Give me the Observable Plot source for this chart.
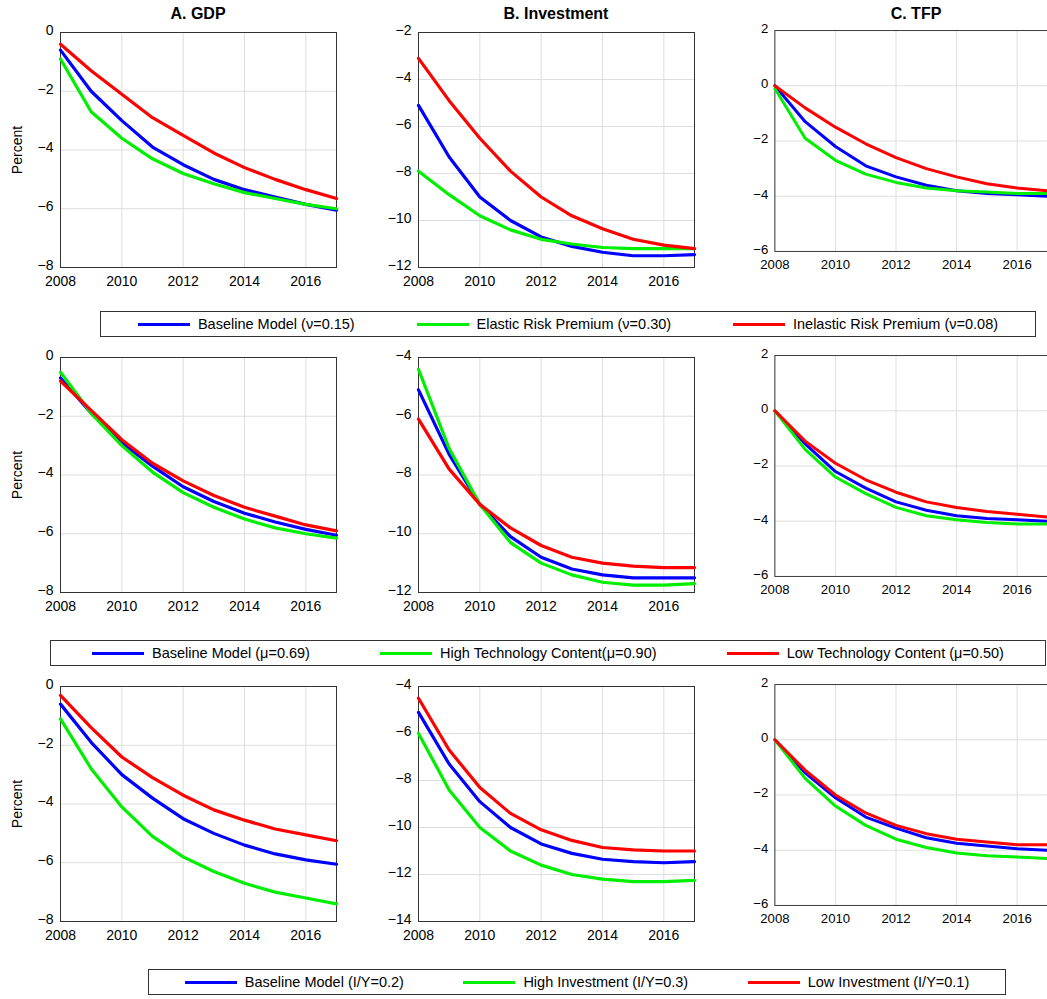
<!DOCTYPE html>
<html><head><meta charset="utf-8">
<script src="https://cdn.jsdelivr.net/npm/d3@7"></script>
<script src="https://cdn.jsdelivr.net/npm/@observablehq/plot@0.6"></script>
<style>
body{margin:0;background:#fff;font-family:"Liberation Sans",Arial,sans-serif;overflow:hidden}
#wrap{position:relative;width:1047px;height:999px;overflow:hidden}
.cell{position:absolute}
.ttl{position:absolute;font-weight:bold;font-size:16px;text-align:center}
.leg{position:absolute;border:1px solid #333;height:26px;display:flex;align-items:center;justify-content:space-around;font-size:14.5px;box-sizing:border-box;padding:0 6px}
.leg span{display:flex;align-items:center;white-space:nowrap}
.leg i{display:inline-block;width:52px;height:3px;margin-right:8px}
</style></head><body>
<div id="wrap"></div>
<script>
const years = [2008,2009,2010,2011,2012,2013,2014,2015,2016,2017];
const colors = ["#0000ff","#00ee00","#ff0000"];

// row 1: risk premium elasticity
const r1_gdp = [[-0.6,-2.0,-3.0,-3.9,-4.5,-5.0,-5.35,-5.6,-5.85,-6.05],[-0.9,-2.7,-3.6,-4.3,-4.8,-5.15,-5.45,-5.65,-5.85,-6.0],[-0.4,-1.3,-2.1,-2.9,-3.5,-4.1,-4.6,-5.0,-5.35,-5.65]];
const r1_inv = [[-5.1,-7.3,-9.0,-10.0,-10.7,-11.1,-11.35,-11.5,-11.5,-11.45],[-7.9,-8.9,-9.8,-10.4,-10.8,-11.0,-11.15,-11.2,-11.2,-11.2],[-3.1,-4.9,-6.5,-7.9,-9.0,-9.8,-10.35,-10.8,-11.05,-11.2]];
const r1_tfp = [[0,-1.3,-2.2,-2.9,-3.3,-3.6,-3.8,-3.9,-3.95,-4.0],[-0.1,-1.9,-2.7,-3.2,-3.5,-3.7,-3.8,-3.85,-3.9,-3.9],[0,-0.8,-1.5,-2.1,-2.6,-3.0,-3.3,-3.55,-3.7,-3.8]];
// row 2: technology content
const r2_gdp = [[-0.7,-1.9,-2.9,-3.7,-4.4,-4.9,-5.3,-5.6,-5.85,-6.05],[-0.5,-1.9,-3.0,-3.9,-4.6,-5.1,-5.5,-5.8,-6.0,-6.15],[-0.8,-1.8,-2.8,-3.6,-4.2,-4.7,-5.1,-5.4,-5.7,-5.9]];
const r2_inv = [[-5.1,-7.3,-9.0,-10.1,-10.8,-11.2,-11.4,-11.5,-11.5,-11.5],[-4.4,-7.1,-9.0,-10.3,-11.0,-11.4,-11.65,-11.75,-11.75,-11.7],[-6.1,-7.8,-9.0,-9.8,-10.4,-10.8,-11.0,-11.1,-11.15,-11.15]];
const r2_tfp = [[0,-1.2,-2.2,-2.8,-3.3,-3.6,-3.8,-3.9,-3.95,-4.0],[0,-1.4,-2.4,-3.0,-3.5,-3.8,-3.95,-4.05,-4.1,-4.1],[0,-1.1,-1.9,-2.5,-2.95,-3.3,-3.5,-3.65,-3.75,-3.85]];
// row 3: investment share
const r3_gdp = [[-0.6,-1.9,-3.0,-3.8,-4.5,-5.0,-5.4,-5.7,-5.9,-6.05],[-1.1,-2.8,-4.1,-5.1,-5.8,-6.3,-6.7,-7.0,-7.2,-7.4],[-0.3,-1.4,-2.4,-3.1,-3.7,-4.2,-4.55,-4.85,-5.05,-5.25]];
const r3_inv = [[-5.1,-7.3,-8.9,-10.0,-10.7,-11.1,-11.35,-11.45,-11.5,-11.45],[-6.0,-8.4,-10.0,-11.0,-11.6,-12.0,-12.2,-12.3,-12.3,-12.25],[-4.5,-6.7,-8.3,-9.4,-10.1,-10.55,-10.85,-10.95,-11.0,-11.0]];
const r3_tfp = [[0,-1.2,-2.1,-2.8,-3.2,-3.55,-3.75,-3.85,-3.95,-4.0],[0,-1.4,-2.4,-3.1,-3.6,-3.9,-4.1,-4.2,-4.25,-4.3],[0,-1.1,-2.0,-2.65,-3.1,-3.4,-3.6,-3.7,-3.8,-3.8]];

const legends = [
  ["Baseline Model (ν=0.15)","Elastic Risk Premium (ν=0.30)","Inelastic Risk Premium (ν=0.08)"],
  ["Baseline Model (μ=0.69)","High Technology Content(μ=0.90)","Low Technology Content (μ=0.50)"],
  ["Baseline Model (I/Y=0.2)","High Investment (I/Y=0.3)","Low Investment (I/Y=0.1)"]
];
const rows = [
  {series:[r1_gdp,r1_inv,r1_tfp], dom:[[-8,0],[-12,-2],[-6,2]], top:0, leg:{left:100,top:311,width:936}},
  {series:[r2_gdp,r2_inv,r2_tfp], dom:[[-8,0],[-12,-4],[-6,2]], top:325, leg:{left:50,top:640,width:996}},
  {series:[r3_gdp,r3_inv,r3_tfp], dom:[[-8,0],[-14,-4],[-6,2]], top:654, leg:{left:148,top:969,width:858}}
];
const colLeft = [0,358,718];
const titles = ["A. GDP","B. Investment","C. TFP"];
const wrap = document.getElementById("wrap");

rows.forEach((row, ri) => {
  row.series.forEach((ser, ci) => {
    const data = ser.flatMap((vals, k) => vals.map((v, i) => ({year: years[i], v, k})));
    const [lo, hi] = row.dom[ci];
    const yt = d3.range(lo, hi + 0.1, 2);
    const xt = [2008,2010,2012,2014,2016];
    const chart = Plot.plot({
      width: 350, height: 297,
      marginLeft: 60, marginRight: ci === 2 ? 0 : 14, marginTop: 32, marginBottom: 30,
      style: {fontFamily: "Liberation Sans, Arial, sans-serif", fontSize: "14px", color: "#000", background: "transparent"},
      x: {domain: [2008, 2017]},
      y: {domain: [lo, hi]},
      marks: [
        Plot.gridX(xt, {stroke: "#ddd", strokeOpacity: 1}),
        Plot.gridY(yt, {stroke: "#ddd", strokeOpacity: 1}),
        Plot.frame({stroke: "#333"}),
        Plot.axisX({tickSize: 0, tickPadding: 9, ticks: xt, tickFormat: d => String(d), label: null}),
        Plot.axisY({tickSize: 0, tickPadding: 7, ticks: yt, dy: -2,
          label: ci === 0 ? "Percent" : null, labelAnchor: "center", labelArrow: "none", labelOffset: 48}),
        Plot.lineY(data, {x: "year", y: "v", z: "k", stroke: d => colors[d.k], strokeWidth: 3.2})
      ]
    });
    const div = document.createElement("div");
    div.className = "cell";
    div.style.left = colLeft[ci] + "px";
    div.style.top = row.top + "px";
    div.appendChild(chart);
    wrap.appendChild(div);
    if (ri === 0) {
      const t = document.createElement("div");
      t.className = "ttl";
      t.textContent = titles[ci];
      t.style.left = (colLeft[ci] + 60) + "px";
      t.style.width = "276px";
      t.style.top = "5px";
      wrap.appendChild(t);
    }
  });
  const lg = document.createElement("div");
  lg.className = "leg";
  lg.style.left = row.leg.left + "px";
  lg.style.top = row.leg.top + "px";
  lg.style.width = row.leg.width + "px";
  legends[ri].forEach((txt, k) => {
    const s = document.createElement("span");
    s.innerHTML = `<i style="background:${colors[k]}"></i>`;
    s.appendChild(document.createTextNode(txt));
    lg.appendChild(s);
  });
  wrap.appendChild(lg);
});
</script>
</body></html>
